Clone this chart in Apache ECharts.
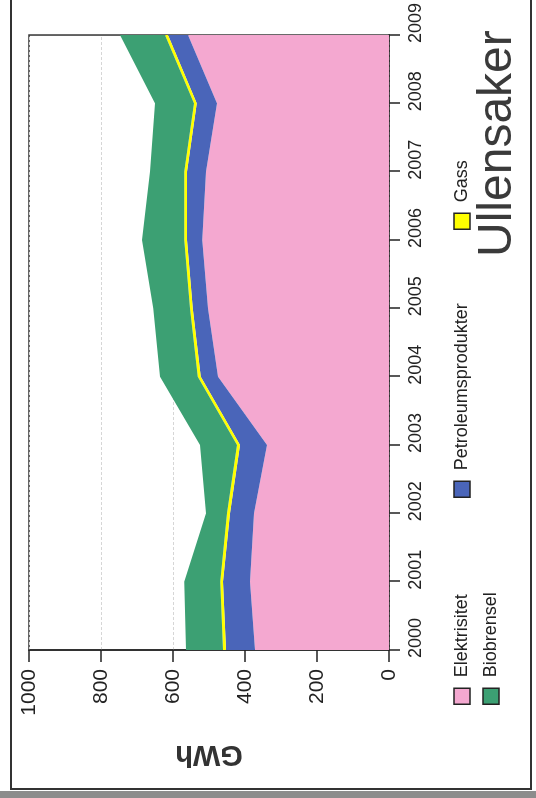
<!DOCTYPE html>
<html>
<head>
<meta charset="utf-8">
<script src="https://cdn.jsdelivr.net/npm/echarts@6/dist/echarts.min.js"></script>
<style>
  html, body { margin: 0; padding: 0; background: #fff; overflow: hidden; }
  body { width: 536px; height: 798px; position: relative; }
  /* the chart is drawn upright and then turned a quarter turn, like the scanned page */
  #chart {
    position: absolute; left: 0; top: 0;
    width: 798px; height: 536px;
    transform-origin: 0 0;
    transform: translateY(798px) rotate(-90deg);
  }
</style>
</head>
<body>
<div id="chart"></div>
<script>
// years on the category axis
var years = ['2000', '2001', '2002', '2003', '2004', '2005', '2006', '2007', '2008', '2009'];
// GWh per energy carrier, stacked from the bottom
var elektrisitet = [372, 386, 375, 339, 475, 503, 519, 508, 478, 558];
var petroleum = [81, 75, 67, 75, 48, 42, 42, 53, 56, 56];
var gass = [8, 8, 8, 8, 8, 8, 8, 8, 8, 8];
var biobrensel = [103, 100, 58, 103, 105, 102, 117, 95, 108, 125];
// value axis
var yMin = 0, yMax = 1000, yStep = 200;

var font = "'Liberation Sans', Arial, sans-serif";
var colors = {
  el: '#F4A8D0',
  pe: '#4A65B9',
  ga: '#FFFF00',
  bi: '#3CA073'
};

function areaSeries(name, data, color) {
  return {
    name: name,
    type: 'line',
    stack: 'total',
    data: data,
    symbol: 'none',
    lineStyle: { width: 0 },
    areaStyle: { color: color, opacity: 1 },
    itemStyle: { color: color },
    emphasis: { disabled: true }
  };
}

function legendAt(name, left, top) {
  return {
    data: [name],
    left: left,
    top: top,
    icon: 'rect',
    itemWidth: 16,
    itemHeight: 16,
    padding: 0,
    selectedMode: false,
    itemStyle: { borderColor: '#222', borderWidth: 1.5 },
    textStyle: { fontFamily: font, fontSize: 18, color: '#222', padding: [0, 0, 0, 6] }
  };
}

var myChart = echarts.init(document.getElementById('chart'), null, { renderer: 'canvas' });
myChart.setOption({
  backgroundColor: '#fff',
  animation: false,
  grid: {
    left: 148, right: 33, top: 29, bottom: 147,
    show: true,
    borderColor: '#333',
    borderWidth: 1.5
  },
  legend: [
    legendAt('Elektrisitet', 93, 453),
    legendAt('Petroleumsprodukter', 300, 453),
    legendAt('Gass', 568, 453),
    legendAt('Biobrensel', 93, 482)
  ],
  xAxis: {
    type: 'category',
    data: years,
    boundaryGap: false,
    axisLine: { lineStyle: { color: '#222', width: 1.5 } },
    axisTick: { length: 11, lineStyle: { color: '#222', width: 1.5 } },
    axisLabel: {
      margin: 18, fontFamily: font, fontSize: 18, color: '#222',
      padding: [0, 0, 0, 24]
    },
    splitLine: { show: false }
  },
  yAxis: {
    type: 'value',
    min: yMin, max: yMax, interval: yStep,
    name: 'GWh',
    nameLocation: 'middle',
    nameRotate: 90,
    nameGap: 90,
    nameTextStyle: { fontFamily: font, fontSize: 29, fontWeight: 'bold', color: '#333' },
    axisLine: { show: true, lineStyle: { color: '#222', width: 1.5 } },
    axisTick: { show: true, length: 12, lineStyle: { color: '#222', width: 1.5 } },
    axisLabel: {
      margin: 19, fontFamily: font, fontSize: 21, color: '#222',
      formatter: function (v) { return String(v); }
    },
    splitLine: { show: true, lineStyle: { color: '#d6d6d6', width: 1, type: [3, 2] } }
  },
  series: [
    areaSeries('Elektrisitet', elektrisitet, colors.el),
    areaSeries('Petroleumsprodukter', petroleum, colors.pe),
    areaSeries('Gass', gass, colors.ga),
    areaSeries('Biobrensel', biobrensel, colors.bi)
  ],
  graphic: [
    // dark strip at the edge of the scan
    { type: 'rect', z: -1, shape: { x: 0, y: 0, width: 7, height: 536 }, style: { fill: '#8c8c8c' } },
    // outer frame
    { type: 'rect', z: 0, shape: { x: 9, y: 11, width: 800, height: 520 }, style: { fill: 'none', stroke: '#333', lineWidth: 2 } },
    {
      type: 'text', left: 541, top: 474,
      style: { text: 'Ullensaker', font: '48px ' + font, fill: '#3a3a3a' }
    }
  ]
});
</script>
</body>
</html>
